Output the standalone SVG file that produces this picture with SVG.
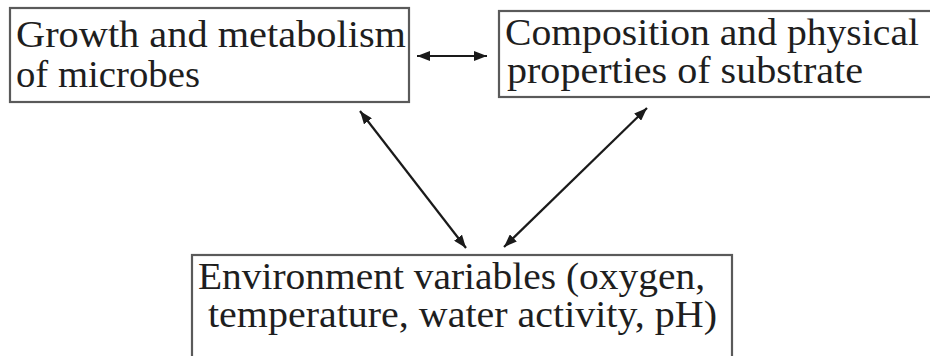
<svg xmlns="http://www.w3.org/2000/svg" width="930" height="356" viewBox="0 0 930 356">
  <style>
    .box { fill: #ffffff; stroke: #5a5a5a; stroke-width: 2.2; }
    .link { stroke: #1a1a1a; stroke-width: 2.2; fill: none; marker-start: url(#head); marker-end: url(#head); }
  </style>
  <defs>
    <marker id="head" viewBox="0 0 13 10" refX="13" refY="5" markerWidth="13" markerHeight="10" markerUnits="userSpaceOnUse" orient="auto-start-reverse">
      <path d="M0,0 L13,5 L0,10 z" fill="#1a1a1a"/>
    </marker>
  </defs>
  <rect width="930" height="356" fill="#ffffff"/>

  <!-- all labels share one serif face -->
  <g font-family="Liberation Serif, Tinos, Times New Roman, DejaVu Serif, serif" font-size="37" fill="#1e1e1e" lengthAdjust="spacingAndGlyphs">
    <g id="microbes">
      <rect class="box" x="10" y="8" width="399" height="94"/>
      <text x="16" y="47" textLength="390" lengthAdjust="spacingAndGlyphs">Growth and metabolism</text>
      <text x="16" y="87" textLength="184" lengthAdjust="spacingAndGlyphs">of microbes</text>
    </g>

    <g id="substrate">
      <rect class="box" x="499" y="11" width="440" height="86"/>
      <text x="505" y="45" textLength="414" lengthAdjust="spacingAndGlyphs">Composition and physical</text>
      <text x="507" y="83" textLength="356" lengthAdjust="spacingAndGlyphs">properties of substrate</text>
    </g>

    <g id="environment">
      <rect class="box" x="192" y="255" width="540" height="110"/>
      <text x="198" y="289" textLength="507" lengthAdjust="spacingAndGlyphs">Environment variables (oxygen,</text>
      <text x="208" y="327" textLength="509" lengthAdjust="spacingAndGlyphs">temperature, water activity, pH)</text>
    </g>
  </g>

  <g id="connectors">
    <line class="link" x1="417" y1="56" x2="487" y2="56"/>
    <line class="link" x1="360" y1="111" x2="466" y2="248"/>
    <line class="link" x1="647" y1="108" x2="504" y2="247"/>
  </g>
</svg>
